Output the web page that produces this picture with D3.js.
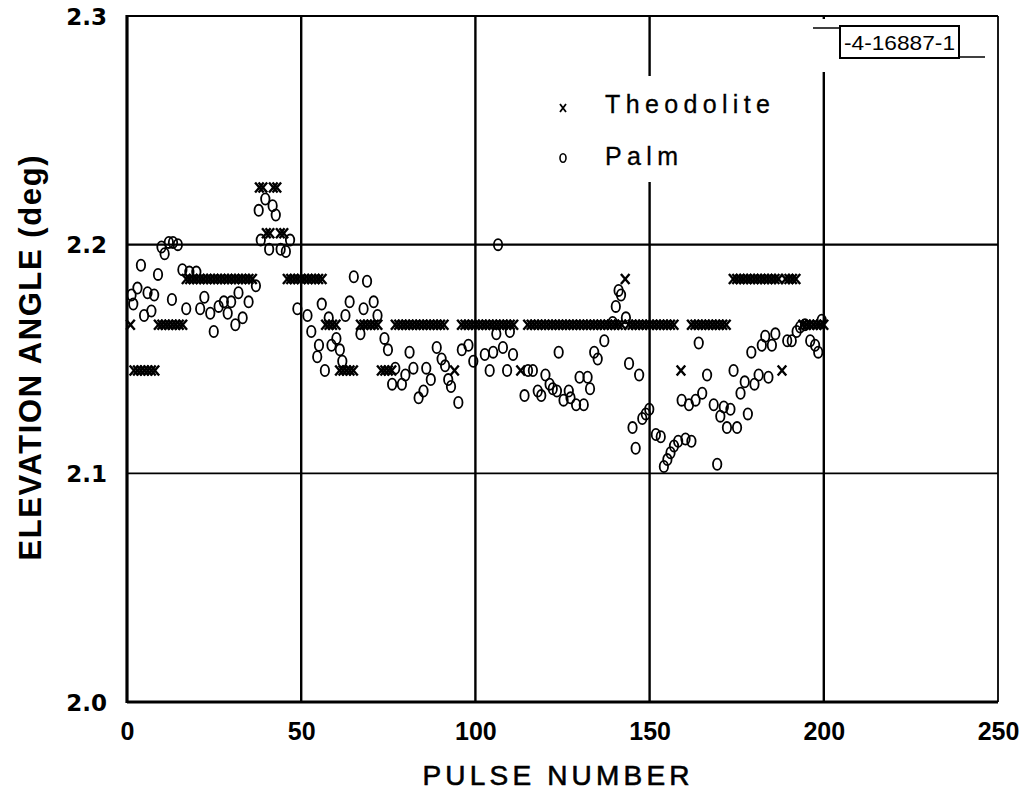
<!DOCTYPE html>
<html>
<head>
<meta charset="utf-8">
<script src="https://cdn.jsdelivr.net/npm/d3@7"></script>
<style>
  html, body { margin: 0; padding: 0; background: #fff; }
  svg { display: block; }
</style>
</head>
<body>
<svg id="chart" width="1031" height="793"></svg>
<script>
// ---------------- data ----------------
const xTicks = [0, 50, 100, 150, 200, 250];
const yTicks = [2.0, 2.1, 2.2, 2.3];
const xGrid = [50, 100, 150, 200];
const yGrid = [2.1, 2.2];
const seriesNames = ["Theodolite", "Palm"];
const xTitle = "PULSE NUMBER";
const yTitle = "ELEVATION ANGLE (deg)";
const figureId = "-4-16887-1";

// Theodolite elevation (deg) for pulse 0..200 (null = no reading)
const theodolite = [
  null, 2.165, 2.145, 2.145, 2.145, 2.145, 2.145, 2.145, 2.145, 2.165,
  2.165, 2.165, 2.165, 2.165, 2.165, 2.165, 2.165, 2.185, 2.185, 2.185,
  2.185, 2.185, 2.185, 2.185, 2.185, 2.185, 2.185, 2.185, 2.185, 2.185,
  2.185, 2.185, 2.185, 2.185, 2.185, 2.185, 2.185, null, 2.225, 2.225,
  2.205, 2.205, 2.225, 2.225, 2.205, 2.205, 2.185, 2.185, 2.185, 2.185,
  2.185, 2.185, 2.185, 2.185, 2.185, 2.185, 2.185, 2.165, 2.165, 2.165,
  2.165, 2.145, 2.145, 2.145, 2.145, 2.145, null, 2.165, 2.165, 2.165,
  2.165, 2.165, 2.165, 2.145, 2.145, 2.145, 2.145, 2.165, 2.165, 2.165,
  2.165, 2.165, 2.165, 2.165, 2.165, 2.165, 2.165, 2.165, 2.165, 2.165,
  2.165, 2.165, null, null, 2.145, null, 2.165, 2.165, 2.165, 2.165,
  2.165, 2.165, 2.165, 2.165, 2.165, 2.165, 2.165, 2.165, 2.165, 2.165,
  2.165, 2.165, null, 2.145, null, 2.165, 2.165, 2.165, 2.165, 2.165,
  2.165, 2.165, 2.165, 2.165, 2.165, 2.165, 2.165, 2.165, 2.165, 2.165,
  2.165, 2.165, 2.165, 2.165, 2.165, 2.165, 2.165, 2.165, 2.165, 2.165,
  2.165, 2.165, 2.165, 2.185, 2.165, 2.165, 2.165, 2.165, 2.165, 2.165,
  2.165, 2.165, 2.165, 2.165, 2.165, 2.165, 2.165, 2.165, null, 2.145,
  null, null, 2.165, 2.165, 2.165, 2.165, 2.165, 2.165, 2.165, 2.165,
  2.165, 2.165, 2.165, null, 2.185, 2.185, 2.185, 2.185, 2.185, 2.185,
  2.185, 2.185, 2.185, 2.185, 2.185, 2.185, 2.185, 2.185, 2.145, 2.185,
  2.185, 2.185, 2.185, null, 2.165, 2.165, 2.165, 2.165, 2.165, 2.165,
  2.165
];

// Palm readings: pulse number and elevation (deg)
const palmPulse = [
  1.3, 1.8, 3.0, 4.0, 4.9, 5.9, 7.0, 7.8, 8.9, 9.9,
  10.8, 12.0, 13.2, 14.6, 12.9, 15.9, 17.0, 17.9, 19.9, 21.0,
  22.2, 23.9, 24.9, 26.3, 27.8, 28.9, 29.9, 31.1, 32.0, 33.2,
  34.9, 37.0, 37.8, 38.4, 39.7, 40.8, 41.8, 42.7, 44.1, 45.6,
  46.8, 48.9, 51.8, 52.9, 54.6, 55.1, 55.9, 56.8, 57.9, 58.7,
  60.1, 61.1, 61.8, 62.7, 63.9, 65.1, 67.0, 67.9, 68.9, 70.8,
  71.9, 73.9, 74.9, 76.1, 77.0, 78.9, 79.9, 81.1, 82.2, 83.7,
  85.1, 85.9, 87.2, 88.9, 90.3, 91.3, 92.2, 93.0, 95.1, 96.1,
  98.0, 99.4, 102.7, 104.1, 105.1, 106.0, 106.5, 107.9, 109.1, 109.9,
  110.8, 114.1, 115.1, 116.5, 117.9, 118.9, 120.1, 121.3, 122.2, 123.4,
  123.9, 125.3, 126.8, 127.3, 128.9, 129.9, 131.1, 132.2, 132.9, 134.1,
  135.1, 137.0, 139.4, 140.3, 141.1, 141.8, 143.2, 144.1, 145.1, 146.0,
  147.0, 147.9, 148.9, 149.9, 151.8, 153.2, 154.1, 155.1, 156.0, 157.0,
  158.2, 159.2, 160.3, 161.3, 162.0, 163.2, 164.1, 165.1, 166.5, 168.4,
  169.4, 170.3, 171.3, 172.2, 173.2, 174.1, 175.1, 176.1, 177.3, 178.2,
  179.2, 180.1, 181.3, 182.2, 183.2, 184.1, 185.1, 186.1, 189.5, 190.8,
  192.2, 193.2, 194.6, 196.1, 197.5, 198.4, 199.4
];
const palmAngle = [
  2.178, 2.174, 2.181, 2.191, 2.169, 2.179, 2.171, 2.178, 2.187, 2.199,
  2.196, 2.201, 2.201, 2.200, 2.176, 2.189, 2.172, 2.188, 2.188, 2.172,
  2.177, 2.170, 2.162, 2.173, 2.175, 2.170, 2.175, 2.165, 2.179, 2.168,
  2.175, 2.182, 2.215, 2.202, 2.220, 2.198, 2.217, 2.213, 2.198, 2.197,
  2.202, 2.172, 2.169, 2.162, 2.151, 2.156, 2.174, 2.145, 2.168, 2.156,
  2.159, 2.154, 2.149, 2.169, 2.175, 2.186, 2.161, 2.172, 2.184, 2.175,
  2.169, 2.159, 2.154, 2.139, 2.146, 2.139, 2.143, 2.153, 2.146, 2.133,
  2.136, 2.146, 2.141, 2.155, 2.150, 2.147, 2.141, 2.138, 2.131, 2.154,
  2.156, 2.149, 2.152, 2.145, 2.153, 2.161, 2.200, 2.155, 2.145, 2.162,
  2.152, 2.134, 2.145, 2.145, 2.136, 2.134, 2.143, 2.139, 2.137, 2.136,
  2.153, 2.132, 2.136, 2.133, 2.130, 2.142, 2.130, 2.142, 2.137, 2.153,
  2.150, 2.158, 2.166, 2.173, 2.180, 2.178, 2.168, 2.148, 2.120, 2.111,
  2.143, 2.124, 2.126, 2.128, 2.117, 2.116, 2.103, 2.106, 2.109, 2.112,
  2.114, 2.132, 2.115, 2.130, 2.114, 2.132, 2.157, 2.135, 2.143, 2.130,
  2.104, 2.125, 2.129, 2.120, 2.128, 2.145, 2.120, 2.135, 2.140, 2.126,
  2.153, 2.139, 2.143, 2.156, 2.160, 2.142, 2.156, 2.161, 2.158, 2.158,
  2.162, 2.164, 2.165, 2.158, 2.156, 2.153, 2.167
];

// ---------------- layout ----------------
const svg = d3.select("#chart");
const X0 = 127, X1 = 998, Y0 = 702, Y1 = 16;
const x = d3.scaleLinear().domain([0, 250]).range([X0, X1]);
const y = d3.scaleLinear().domain([2.0, 2.3]).range([Y0, Y1]);

svg.append("rect").attr("width", 1031).attr("height", 793).attr("fill", "#fff");

// gridlines
const g = svg.append("g").attr("stroke", "#000").attr("fill", "none");
const vGaps = {150: [76, 182], 200: [19, 72]};
xGrid.forEach(v => {
  const segs = vGaps[v] ? [[Y1, vGaps[v][0]], [vGaps[v][1], Y0]] : [[Y1, Y0]];
  segs.forEach(s => g.append("line")
    .attr("x1", x(v)).attr("x2", x(v)).attr("y1", s[0]).attr("y2", s[1])
    .attr("stroke-width", 2.4));
});
yGrid.forEach(v => g.append("line")
  .attr("x1", X0).attr("x2", X1).attr("y1", y(v)).attr("y2", y(v))
  .attr("stroke-width", v === 2.2 ? 2.2 : 1.8));

// frame
g.append("line").attr("x1", X0).attr("x2", X0).attr("y1", Y1 - 1).attr("y2", Y0 + 1).attr("stroke-width", 3.2);
g.append("line").attr("x1", X0).attr("x2", X1).attr("y1", Y0).attr("y2", Y0).attr("stroke-width", 3.2);
g.append("line").attr("x1", X0).attr("x2", X1).attr("y1", Y1).attr("y2", Y1).attr("stroke-width", 1.8);
g.append("line").attr("x1", X1).attr("x2", X1).attr("y1", Y1).attr("y2", Y0).attr("stroke-width", 1.8);

// axes (labels only)
const yAxis = svg.append("g").attr("transform", `translate(${X0},0)`)
  .call(d3.axisLeft(y).tickValues(yTicks).tickSize(0).tickPadding(20).tickFormat(d3.format(".1f")));
yAxis.select(".domain").remove();
yAxis.selectAll("text")
  .attr("font-family", "'DejaVu Sans', sans-serif")
  .attr("font-weight", "bold")
  .attr("font-size", 23)
  .attr("fill", "#000")
  .attr("dy", "0.36em");

const xAxis = svg.append("g").attr("transform", `translate(0,${Y0})`)
  .call(d3.axisBottom(x).tickValues(xTicks).tickSize(0).tickPadding(20).tickFormat(d3.format("d")));
xAxis.select(".domain").remove();
xAxis.selectAll("text")
  .attr("font-family", "'Liberation Sans', Arial, sans-serif")
  .attr("font-weight", "bold")
  .attr("font-size", 25)
  .attr("fill", "#000");

// axis titles
svg.append("text")
  .attr("x", 556).attr("y", 785)
  .attr("text-anchor", "middle")
  .attr("font-family", "'Liberation Sans', Arial, sans-serif")
  .attr("font-size", 28)
  .attr("stroke", "#000").attr("stroke-width", 0.6)
  .attr("textLength", 267).attr("lengthAdjust", "spacing")
  .text(xTitle);

svg.append("text")
  .attr("transform", "translate(41,358) rotate(-90)")
  .attr("text-anchor", "middle")
  .attr("font-family", "'Liberation Sans', Arial, sans-serif")
  .attr("font-weight", "bold")
  .attr("font-size", 31)
  .attr("textLength", 405).attr("lengthAdjust", "spacing")
  .text(yTitle);

// markers
const crossPath = "M-4.3,-5L4.3,5M4.3,-5L-4.3,5";
const theoData = theodolite.map((v, i) => ({p: i, v})).filter(d => d.v !== null);
svg.append("g").selectAll("path").data(theoData).join("path")
  .attr("transform", d => `translate(${x(d.p)},${y(d.v)})`)
  .attr("d", crossPath)
  .attr("stroke", "#000").attr("stroke-width", 2.4).attr("fill", "none");

const palmData = palmPulse.map((p, i) => ({p, v: palmAngle[i]}));
svg.append("g").selectAll("ellipse").data(palmData).join("ellipse")
  .attr("cx", d => x(d.p)).attr("cy", d => y(d.v))
  .attr("rx", 4.2).attr("ry", 5.6)
  .attr("stroke", "#000").attr("stroke-width", 1.8).attr("fill", "none");

// legend
const leg = svg.append("g");
leg.append("path").attr("transform", "translate(563,108)")
  .attr("d", "M-3,-4L3,4M3,-4L-3,4").attr("stroke", "#000").attr("stroke-width", 1.8);
leg.append("ellipse").attr("cx", 563).attr("cy", 158).attr("rx", 3).attr("ry", 4.2)
  .attr("stroke", "#000").attr("stroke-width", 1.6).attr("fill", "none");
[[seriesNames[0], 113, 165], [seriesNames[1], 165, 73]].forEach(([t, by, w]) => {
  leg.append("text").attr("x", 605).attr("y", by)
    .attr("font-family", "'Liberation Sans', Arial, sans-serif")
    .attr("font-size", 25)
    .attr("stroke", "#000").attr("stroke-width", 0.3)
    .attr("textLength", w).attr("lengthAdjust", "spacing")
    .text(t);
});

// figure id box
const box = svg.append("g").attr("stroke", "#000").attr("fill", "none");
box.append("rect").attr("x", 840).attr("y", 26).attr("width", 119).attr("height", 32).attr("stroke-width", 2);
box.append("line").attr("x1", 813).attr("x2", 840).attr("y1", 28).attr("y2", 28).attr("stroke-width", 1.5);
box.append("line").attr("x1", 959).attr("x2", 985).attr("y1", 57).attr("y2", 57).attr("stroke-width", 1.5);
svg.append("text").attr("x", 844).attr("y", 50)
  .attr("font-family", "'Liberation Sans Narrow', 'Liberation Sans', Arial, sans-serif")
  .attr("font-size", 20)
  .attr("textLength", 111).attr("lengthAdjust", "spacingAndGlyphs")
  .text(figureId);
</script>
</body>
</html>
